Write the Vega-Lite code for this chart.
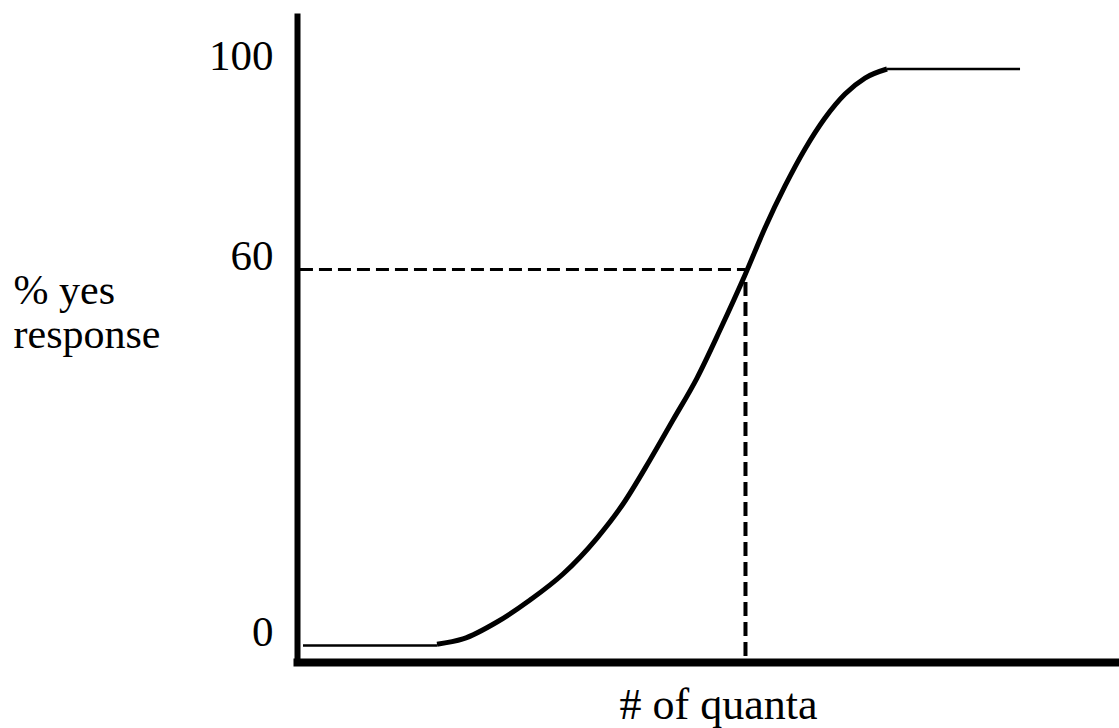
{
  "$schema": "https://vega.github.io/schema/vega-lite/v6.json",
  "width": 822,
  "height": 649,
  "autosize": {"type": "none"},
  "padding": {"left": 297, "top": 13, "right": 0, "bottom": 66},
  "background": "white",
  "config": {"view": {"stroke": null}, "font": "Liberation Serif"},
  "datasets": {
    "curve": [
      {"part": "low", "quanta": 0.73, "pct": 0},
      {"part": "low", "quanta": 17.03, "pct": 0},
      {"part": "rise", "quanta": 17.03, "pct": 0.2},
      {"part": "rise", "quanta": 20.19, "pct": 1.04},
      {"part": "rise", "quanta": 24.33, "pct": 3.75},
      {"part": "rise", "quanta": 28.35, "pct": 7.26},
      {"part": "rise", "quanta": 32.36, "pct": 11.41},
      {"part": "rise", "quanta": 36.5, "pct": 17.15},
      {"part": "rise", "quanta": 39.66, "pct": 22.58},
      {"part": "rise", "quanta": 42.94, "pct": 29.6},
      {"part": "rise", "quanta": 45.74, "pct": 35.98},
      {"part": "rise", "quanta": 48.66, "pct": 42.68},
      {"part": "rise", "quanta": 51.46, "pct": 50.34},
      {"part": "rise", "quanta": 54.5, "pct": 59.12},
      {"part": "rise", "quanta": 56.93, "pct": 68.28},
      {"part": "rise", "quanta": 59.37, "pct": 76.66},
      {"part": "rise", "quanta": 61.8, "pct": 84.04},
      {"part": "rise", "quanta": 64.23, "pct": 90.22},
      {"part": "rise", "quanta": 66.67, "pct": 95.01},
      {"part": "rise", "quanta": 69.1, "pct": 98.2},
      {"part": "rise", "quanta": 71.78, "pct": 100},
      {"part": "high", "quanta": 71.78, "pct": 100},
      {"part": "high", "quanta": 87.96, "pct": 100}
    ],
    "hguide": [{"x": 0.36, "x2": 54.56, "y": 60}],
    "vguide": [{"x": 54.56, "y": 58, "y2": -2.63}]
  },
  "layer": [
    {
      "data": {"name": "hguide"},
      "mark": {"type": "rule", "color": "black", "strokeWidth": 3, "strokeDash": [13, 6]},
      "encoding": {
        "x": {"field": "x", "type": "quantitative"},
        "x2": {"field": "x2"},
        "y": {"field": "y", "type": "quantitative"}
      }
    },
    {
      "data": {"name": "vguide"},
      "mark": {"type": "rule", "color": "black", "strokeWidth": 4, "strokeDash": [14, 6]},
      "encoding": {
        "x": {"field": "x", "type": "quantitative"},
        "y": {"field": "y", "type": "quantitative"},
        "y2": {"field": "y2"}
      }
    },
    {
      "data": {"name": "curve"},
      "transform": [{"filter": "datum.part != 'rise'"}],
      "mark": {"type": "line", "color": "black", "strokeWidth": 2.5, "strokeCap": "butt"},
      "encoding": {
        "x": {"field": "quanta", "type": "quantitative"},
        "y": {"field": "pct", "type": "quantitative"},
        "detail": {"field": "part"}
      }
    },
    {
      "data": {"name": "curve"},
      "transform": [{"filter": "datum.part == 'rise'"}],
      "mark": {"type": "line", "color": "black", "interpolate": "monotone", "strokeWidth": 5, "strokeCap": "butt"},
      "encoding": {
        "x": {
          "field": "quanta",
          "type": "quantitative",
          "scale": {"domain": [0, 100], "zero": false, "nice": false},
          "axis": {
            "title": "# of quanta",
            "labels": false,
            "ticks": false,
            "grid": false,
            "domainColor": "black",
            "domainWidth": 8,
            "domainCap": "square",
            "titleFont": "Liberation Serif",
            "titleFontSize": 44,
            "titleFontWeight": "normal",
            "titleColor": "black",
            "titleAlign": "center",
            "titleAnchor": null,
            "titleBaseline": "alphabetic",
            "titleX": 421,
            "titleY": 56
          }
        },
        "y": {
          "field": "pct",
          "type": "quantitative",
          "scale": {
            "domain": [-2.63, 0, 60, 100, 111.17],
            "range": [649, 632.5, 256.5, 56, 0],
            "zero": false,
            "nice": false
          },
          "axis": {
            "title": ["% yes", "response"],
            "values": [0, 60, 100],
            "ticks": false,
            "grid": false,
            "domainColor": "black",
            "domainWidth": 6,
            "labelFont": "Liberation Serif",
            "labelFontSize": 43,
            "labelColor": "black",
            "labelPadding": 24,
            "labelAlign": "right",
            "labelBaseline": "alphabetic",
            "labelOverlap": false,
            "encode": {
              "labels": {
                "update": {
                  "dy": {"signal": "datum.value == 0 ? 12.5 : datum.value == 60 ? 2.5 : 7"},
                  "dx": {"signal": "datum.value == 60 ? -15 : datum.value == 0 ? -8 : 0"}
                }
              }
            },
            "titleFont": "Liberation Serif",
            "titleFontSize": 42,
            "titleFontWeight": "normal",
            "titleColor": "black",
            "titleAngle": 0,
            "titleAlign": "left",
            "titleAnchor": null,
            "titleBaseline": "alphabetic",
            "titleLineHeight": 44,
            "titleX": -284,
            "titleY": 290
          }
        }
      }
    }
  ]
}
